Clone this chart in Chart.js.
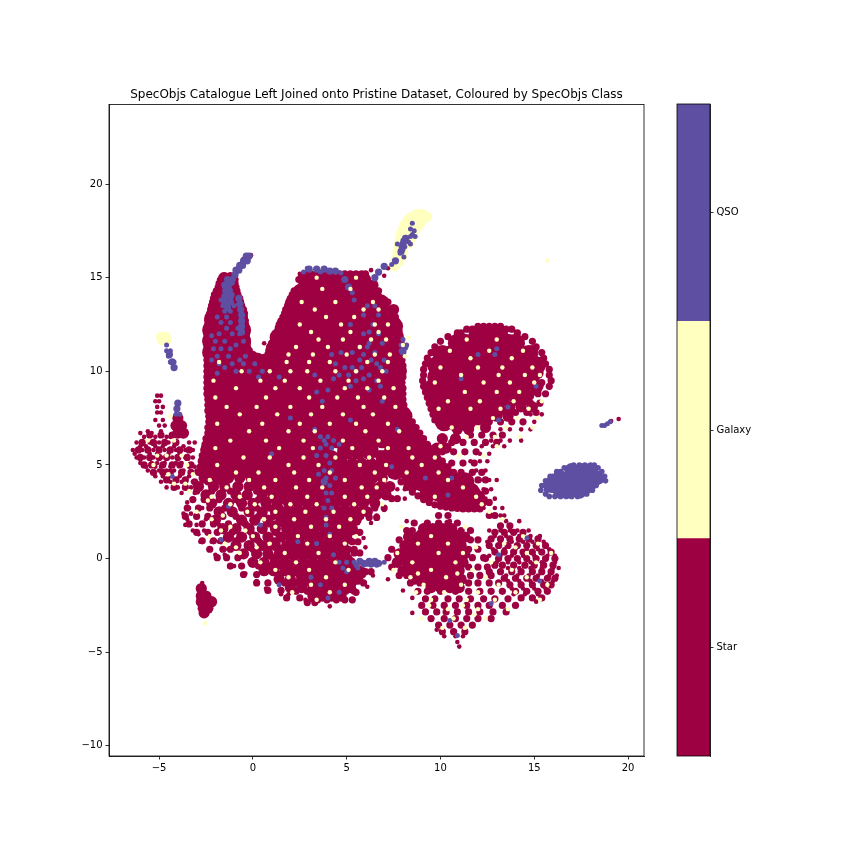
<!DOCTYPE html>
<html>
<head>
<meta charset="utf-8">
<script src="https://cdn.jsdelivr.net/npm/chart.js@4/dist/chart.umd.min.js"></script>
<style>
body { margin: 0; background: #fff; }
canvas { position: absolute; top: 0; }
</style>
</head>
<body>
<canvas id="scatter" width="864" height="864" style="left:0"></canvas>
<canvas id="colorbar" width="110" height="864" style="left:670px"></canvas>
<script>
// values. each row is [y, x, x, x ...]
// the real plot has far more points, so solid areas use bigger dots
const titleText = "SpecObjs Catalogue Left Joined onto Pristine Dataset, Coloured by SpecObjs Class";
const classNames = ["Star", "Galaxy", "QSO"];
const classColors = ["#9e0142", "#ffffbf", "#5e4fa2"];
const xTicks = [-5, 0, 5, 10, 15, 20];
const yTicks = [-10, -5, 0, 5, 10, 15, 20];

const starCoreRows = [
  [14.6,-1.4],[14.0,-1.7,-1.2],[13.4,-1.9,-1.3,-0.9],[12.8,-2.1,-1.5,-0.9],
  [12.2,-2.2,-1.6,-1.0,-0.6],[11.6,-2.2,-1.6,-1.0,-0.6],[11.0,-2.2,-1.6,-1.0,-0.5],
  [14.85,2.9,3.5,4.1,4.7,5.3,5.8],
  [14.2,2.6,3.2,3.8,4.4,5.0,5.6,6.2],
  [13.6,2.2,2.8,3.4,4.0,4.6,5.2,5.8,6.4,6.8],
  [13.0,2.0,2.6,3.2,3.8,4.4,5.0,5.6,6.2,6.8,7.2],
  [12.4,1.7,2.3,2.9,3.5,4.1,4.7,5.3,5.9,6.5,7.1,7.5],
  [11.8,1.4,2.0,2.6,3.2,3.8,4.4,5.0,5.6,6.2,6.8,7.4],
  [11.2,1.2,1.7,2.3,2.9,3.5,4.1,4.7,5.3,5.9,6.5,7.1,7.6],
  [10.5,-2.1,-1.5,-0.9,-0.3,0.2,1.0,1.6,2.2,2.8,3.4,4.0,4.6,5.2,5.8,6.4,7.0,7.6],
  [10.0,-2.1,-1.5,-0.9,-0.3,0.3,0.8,1.3,1.9,2.5,3.1,3.7,4.3,4.9,5.5,6.1,6.7,7.3,7.7],
  [9.4,-2.1,-1.5,-0.9,-0.3,0.3,0.9,1.5,2.1,2.7,3.3,3.9,4.5,5.1,5.7,6.3,6.9,7.5],
  [8.8,-2.1,-1.5,-0.9,-0.3,0.3,0.9,1.5,2.1,2.7,3.3,3.9,4.5,5.1,5.7,6.3,6.9,7.6],
  [8.2,-2.0,-1.4,-0.8,-0.2,0.4,1.0,1.6,2.2,2.8,3.4,4.0,4.6,5.2,5.8,6.4,7.0,7.7],
  [7.6,-2.0,-1.4,-0.8,-0.2,0.4,1.0,1.6,2.2,2.8,3.4,4.0,4.6,5.2,5.8,6.4,7.0,7.6,8.0],
  [7.0,-2.0,-1.4,-0.8,-0.2,0.4,1.0,1.6,2.2,2.8,3.4,4.0,4.6,5.2,5.8,6.4,7.0,7.6,8.2],
  [6.4,-2.1,-1.5,-0.9,-0.3,0.3,0.9,1.5,2.1,2.7,3.3,3.9,4.5,5.1,5.7,6.3,6.9,7.5,8.1,8.6],
  [5.8,-2.3,-1.7,-1.1,-0.5,0.1,0.7,1.3,1.9,2.5,3.1,3.7,5.0,5.6,6.2,7.5,8.1,8.7,9.1],
  [5.2,-2.4,-1.8,-1.2,-0.6,0,0.6,1.2,1.8,2.4,7.3,7.9,8.5,9.1,9.6],
  [4.7,-2.3,-1.8,-1.3,-0.7,0,7.6,8.2,8.8,9.4,10],
  [4.1,8.5,9.0,9.6,10.2,10.8,11.3],[3.55,9.4,9.9,10.4,11.0,11.6],[3.2,10.3,10.8,11.4,11.9],
  [11.95,12,12.5,13.1],
  [11.5,10.9,11.3,11.8,12.4,13.0,13.6,14],
  [10.9,10.1,10.6,11.2,11.8,12.4,13.0,13.6,14.2,14.7],
  [10.3,9.8,10.4,11.0,11.6,12.2,12.8,13.4,14.0,14.6,15.1],
  [9.7,9.8,10.4,11.0,11.6,12.2,12.8,13.4,14.2,14.8],
  [9.1,9.6,10.2,10.8,11.4,12.0,12.6,13.2,13.8],
  [8.5,9.8,10.4,11.0,11.6,12.2,12.8],[7.9,10.0,10.6,11.2,11.8,12.4],[7.3,10.2,10.8,11.4]
];
const starEdgeRows = [
  [15.1,-1.5,2.6],[14.9,-1.7,-0.95,2.45,6.1],[14.7,-1.8,-0.95],[14.5,-1.85,-0.9,6.3],[14.3,-1.95,-0.85,2.2,6.7],[14.1,-2.05,-0.8,2.1],[13.9,-2.1,-0.7,2],[13.7,-2.15,-0.65,1.95,7.2],
  [13.5,-2.2,-0.6,1.85],[13.3,-2.25,-0.5,1.75,7.45],[13.1,-2.3,-0.45,1.7,7.5],[12.9,-2.35,-0.45,1.6,7.6],[12.7,-2.4,-0.4,1.5,7.65],[12.5,-2.4,-0.4,1.45,7.7],[12.3,-2.45,-0.4,1.35,7.75],[12.1,-2.45,-0.35,1.3,7.8],
  [11.9,-2.45,-0.35,1.2,7.85],[11.7,-2.45,-0.35,1.1,7.9],[11.5,-2.4,-0.3,1,7.9],[11.3,-2.45,-0.3,0.9,7.9],[11.1,-2.45,-0.2,0.85,7.95],[10.9,-2.45,0,0.8,7.95],[10.75,0.25,0.6],[10.6,-2.45,7.95],[10.3,-2.45,8],
  [10,-2.45,8],[9.7,-2.45,8],[9.4,-2.45,7.95],[9.1,-2.45,8],[8.8,-2.45,8],[8.5,-2.4,8],[8.2,-2.4,8.05],[7.9,-2.4,8.15],[7.6,-2.35,8.3],[7.3,-2.35,8.5],[7,-2.4,8.7],[6.7,-2.4,8.9],[6.4,-2.5,9.1],[6.1,-2.55,9.3],[5.8,-2.6,9.5],[5.5,-2.7,9.8],[5.2,-2.75,10.1],[4.9,-2.8,10.4],[4.6,-2.9,10.7],
  [15.2,2.8,3.1,3.4,3.7,4,4.3,4.6,4.9,5.2,5.5,5.8,6],
  [12.4,12,12.3,12.6,12.9,13.2],[12.25,11.4,11.7,13.5,13.8],[12.05,10.9,11.1,14.1],[11.85,10.4,14.5],[11.6,10,14.9],[11.3,9.7,15.1],[11,9.5,15.4],[10.7,9.3,15.5],[10.4,9.2,15.6],[10.1,9.1,15.8],[9.8,9.1,15.8],[9.5,9.05,15.9],[9.2,9.1,15.8],[8.9,9.2],[8.6,9.3],[8.3,9.4],[8,9.5],[7.7,9.6],[7.4,9.7],
  [4.1,7.9],[3.8,8.2],[3.55,8.5],[3.35,8.8],[3.15,9.1],[3,9.4],[2.87,9.7],[2.8,10],[2.75,10.3],[2.7,10.6],[2.68,10.9],[2.65,11.2],[2.65,11.5],[2.65,11.8],[2.65,12.1]
];
const starMidRows = [
  [15.0,-1.55,-1.2],[14.6,6.4],[14.0,6.6],[13.3,1.9,7.5],
  [5.5,3.1,3.6,4.2,4.7,6.8,7],[5.1,2.8,3.3,3.8,4.3,4.8,5.3,5.8,6.3,6.8],[4.7,0.5,1,1.5,2,2.5,3,3.5,4,4.5,5,5.5,6,6.5,7],
  [4.3,-2.6,-1.9,-1.3,-0.7,-0.1,0.4,0.9,1.4,1.9,2.4,2.9,3.4,3.9,4.4,4.9,5.4,5.9,6.4,6.9],
  [3.85,-2.9,-2.1,-1.5,-0.8,-0.2,0.3,0.8,1.3,1.8,2.3,2.8,3.3,3.8,4.3,4.8,5.3,5.8,6.3,6.8,7.3],
  [3.4,-2.5,-1.7,-0.9,-0.3,0.5,1.1,1.6,2.1,2.6,3.1,3.6,4.1,4.6,5.1,5.6,6.1,6.6,7.1],
  [2.95,-2.2,-1.3,-0.6,0,0.7,1.3,1.9,2.4,2.9,3.4,3.9,4.4,4.9,5.4,5.9,6.5],
  [2.5,-1.8,-1.1,-0.2,0.5,1.2,1.7,2.2,2.7,3.2,3.7,4.2,4.7,5.2,5.7,6.1],
  [2.05,-2,-0.6,0.1,0.8,1.5,2,2.5,3,3.5,4,4.5,5,5.5],
  [1.6,-1.6,-0.9,-0.2,0.5,1.2,1.8,2.3,2.8,3.3,3.8,4.3,4.8,5.3],
  [1.15,-1.3,-0.6,0.1,0.8,1.5,2,2.5,3,3.5,4,4.5,5],
  [0.7,-0.9,-0.2,0.5,1.2,1.8,2.3,2.8,3.3,3.8,4.3,4.8],
  [0.25,-0.5,0.2,0.8,1.4,1.9,2.4,2.9,3.4,3.9,4.4,4.9],
  [-0.2,0,0.6,1.2,1.7,2.2,2.7,3.2,3.7,4.2,4.7,5.2],
  [-0.65,0.6,1.1,1.7,2.2,2.7,3.2,3.7,4.2,4.7,5.2,5.7],
  [-1.1,1.4,2,2.6,3.1,3.6,4.1,4.6,5.1,5.6],
  [-1.55,2,2.6,3.2,3.7,4.2,4.7,5.2],
  [-2,3.2,3.7,4.2,4.7],
  // lower left blob
  [1.6,9.1,9.6,10.1,10.6],
  [1.15,8.3,8.8,9.3,9.8,10.3,10.8,11.3],[0.7,8.1,8.6,9.1,9.6,10.1,10.6,11.1],
  [0.25,7.8,8.3,8.8,9.3,9.8,10.3,10.8,11.3],[-0.2,7.7,8.2,8.7,9.2,9.7,10.2,10.7,11.2],
  [-0.65,8,8.5,9,9.5,10,10.5,11],[-1.1,8.6,9.1,9.6,10.1,10.6,11.1],
  [-1.55,9.5,10,10.5,11],
  // right circle lower part
  [11.1,14.9],[10.5,15.1],[9.9,15.2],[9.2,14,14.6,15.2],[8.7,13.5,14.1,14.7],[8.1,13.1,13.7,14.3,14.9],[7.6,12.4,13,13.6],[7,12.4],
  [9,13.8,14.4,15.1],[8.45,13.4,14,14.5],[7.9,13,13.6],[7.4,12,12.5],[6.9,10.9,11.5],[6.4,10.1,10.8],[5.9,9.8,10.3],
  // small shapes
  [7.5,-4],[7.1,-4.1,-3.8],[6.7,-4,-3.7],
  [-1.6,-2.75],[-2,-2.75,-2.5],[-2.3,-2.75,-2.45,-2.2],[-2.65,-2.65,-2.4],[-2.9,-2.6]
];
const starFillRows = [
  // lower body, in the gaps of the rows above
  [4.05,0.05,0.55,1.05,1.55,2.05,2.55,3.05,3.55,4.05,4.55,5.05,5.55,6.05],
  [3.6,0.2,0.85,1.35,1.85,2.35,2.85,3.35,3.85,4.35,4.85,5.35,5.85,6.35],
  [3.15,0.9,1.6,2.15,2.65,3.15,3.65,4.15,4.65,5.15,5.65,6.2],
  [2.7,0.2,1,1.45,1.95,2.45,2.95,3.45,3.95,4.45,4.95,5.45],
  [2.25,1.1,1.75,2.25,2.75,3.25,3.75,4.25,4.75,5.25,5.75],
  [1.85,1.2,1.6,2.15,2.65,3.15,3.65,4.15,4.65,5.15],
  [1.4,1.2,1.75,2.25,2.75,3.25,3.75,4.25,4.75,5.2,5.5],
  [0.95,1.15,2.05,2.55,3.05,3.55,4.05,4.55,5.2],
  [0.5,0.85,1.5,2.05,2.55,3.05,3.55,4.05,4.55,5.1,5.4],
  [0.05,1.05,1.65,2.15,2.65,3.15,3.65,4.15,4.65,5.1],
  [-0.4,0.9,1.45,1.95,2.45,2.95,3.45,3.95,4.45,4.95,5.45],
  [-0.85,1.4,1.95,2.45,2.95,3.45,3.95,4.45,4.95,5.45,5.85],
  [-1.3,1.7,2.3,2.85,3.35,3.85,4.35,4.85,5.35],
  [-1.75,2.3,2.9,3.45,3.95,4.45,4.95,5.4],
  [-2.2,3.45,3.95,4.45,4.9],
  // lower body, sparse left side
  [4.1,-3.1,-2.4,-1.7],[3.6,-3,-2.2,-1.2],[3.15,-3.2,-2.6,-1.8,-0.9,0.3],[2.7,-3.5,-2.9,-2.3,-1.5,-0.6,0.9],[2.25,-3.6,-3,-2.4,-1.6,-0.9,0.3],[1.85,-3.4,-2.7,-2.1,-1.3,-0.4,0.9],[1.4,-3,-2.4,-1.9,-1.1,-0.1],[0.95,-2.7,-2.1,-1.7,-0.9,0.3],[0.5,-2.3,-1.6,-1.2,0],[0.05,-1.9,-1.4,-0.8],[-0.4,-1.2,-0.6,0.3],[-0.85,-0.5,0.2],[-1.3,0.2,0.8],[-1.7,0.8,1.5],[-2.1,1.8,2.5],[-2.35,2.9,3.3],
  [2.2,6.2,6.6],[2.7,6.5,7],[3.2,7.4,7.7],[1.4,5.7],[0.9,5.3,5.6],[0.3,5.4,5.7],[-0.7,6,6.3],[-1.3,5.9],[-1.8,5.5],[-2.2,5.3],
  // cloud on the left
  [6.6,-5.5,-4.9,-4.3],[6.2,-5.9,-5.3,-4.7,-4.1],[5.8,-6.1,-5.6,-5,-4.4,-3.9,-3.4],[5.4,-6,-5.5,-5,-4.6,-4,-3.5],[5,-5.8,-5.4,-4.8,-4.3,-3.9,-3.3],[4.6,-5.3,-4.8,-4.4,-3.8,-3.3],[4.2,-4.6,-4.1,-3.6],[3.8,-4.2,-3.6],
  // tail, circle lower side
  [6.6,11.6,12.2,12.8,13.3],[6.2,10.6,11.2,11.8,12.4,13],[5.7,10.1,10.7,11.3,11.9],[5.1,9.9,10.6,11.2,11.8],[4.6,10.6,11.1,11.7,12.2],[4.2,11.5,12,12.4],[3.6,11.9,12.4],[3,12.3,12.6],[7.3,12.6,13.2,13.8,14.4],[7.8,13.4,14,14.6,15.1],[8.3,14.2,14.8,15.3],[8.8,14.6,15.2,15.6],[9.4,14.5,15,15.4],[2.3,9.9,10.4,12.6,12.9],
  // lower left blob outer part
  [1.9,8.6,9.3,9.9,10.4,10.9],[1.5,8.2,8.5,11.1,11.6],[1,7.8,11.6,12],[0.5,7.4,11.5,12],[0.05,7.2,11.7,12.3],[-0.45,7.4,11.5,12,12.5],[-0.9,7.8,8.2,11.6,12.1,12.7],[-1.3,8.4,8.9,11.5,12,12.6,13.1],[-1.75,8.8,9.3,10,10.8,11.5,12.1,12.7,13.3],
  [1.35,8.9,9.4,9.9,10.4,10.9],[0.9,8.55,9.05,9.55,10.05,10.55,11.05],[0.45,8.05,8.55,9.05,9.55,10.05,10.55,11.05],[0,8,8.5,9,9.5,10,10.5,11],[-0.45,8.3,8.8,9.3,9.8,10.3,10.8],[-0.9,8.85,9.35,9.85,10.35,10.85],[-1.3,9.3,9.8,10.3,10.8],
  [-2.15,9.2,9.7,10.4,11,11.6,12.3,12.9,13.6],[-2.5,9,9.6,10.2,10.8,11.4,12,12.6,13.3,14],[-2.85,9.2,9.8,10.3,10.9,11.5,12.1,12.8,13.5],[-3.2,9.5,10.2,10.8,11.4,12,12.7],[-3.55,9.9,10.5,11.1,11.7],[-3.9,10.1,10.7,11.3],
  // lower right blob
  [1.75,13.2,13.7],[1.4,12.9,13.4,13.9,14.4],[1.05,12.7,13.2,13.7,14.2,14.7,15.2],[0.7,12.6,13.1,13.6,14.1,14.6,15.1,15.6],[0.35,12.9,13.4,13.9,14.4,14.9,15.4,15.9],[0,12.4,13.1,13.6,14.1,14.6,15.1,15.6,16.1],
  [-0.35,12.9,13.3,13.9,14.5,15,15.5,16],[-0.7,12.6,13.2,13.8,14.3,14.9,15.4,15.9],[-1.05,13.4,14,14.6,15.1,15.7,16.1],[-1.4,13.7,14.3,14.9,15.5,15.9],[-1.75,14,14.6,15.2,15.7],[-2.1,14.3,14.9,15.4]
];
const starDotRows = [
  [16,-0.5],[15.4,-0.9,6.3],[15.2,2.5],[14.9,-1.8],[11.5,0.6],[7.45,19.5],[7.35,19.1],[16.2,-0.1],[15.5,-0.8],[15.5,7.2],[15.1,7],
  [8.7,-5.1,-4.9],[8.4,-5.2,-5],[8.1,-5.1,-4.8],[7.8,-5.1,-4.9],[7.4,-5.2,-4.8],[7.1,-5,-4.7],[6.8,-5.6,-4.9],[7.2,-3.9],
  [6.7,-5.4,-6],[6.5,-5.8,-5.2,-4.6,-4.4],[6.2,-6.2,-5.5,-5,-4.5,-3.4,-3.1],[6,-6,-5.7,-5.2,-4.8,-4.2,-3.7],
  [5.8,-6.4,-5.9,-5.3,-4.7,-4.1,-3.6,-3.2],[5.6,-6.3,-5.5,-5.1,-4.5,-3.9],[5.4,-6.2,-5.8,-5.3,-4.9,-4.3,-3.6,-3.2],
  [5.1,-6,-5.4,-5.1,-4.7,-4.1,-3.8],[4.9,-5.7,-5.2,-4.9,-4.4,-3.4,-3.1],[4.7,-5.6,-5,-4.6,-4.2,-3.7,-3],
  [4.4,-5.2,-4.8,-4.4,-3.9,-3.4],[4.1,-4.9,-4.4,-3.8,-3.2],[3.8,-4.6,-4,-3.3],[3.5,-3.8,-3.1],[3,-3.5],[2.7,-3.4,-2.7],
  [2.4,-3.7,-3.3],[2.1,-3.5,-2.5],[1.8,-3.6,-3,-1.8],[1.5,-3.2,-2.6],[1.3,-2.9],[0.9,-2.8,-2.2,-1.8],[0.5,-2.3,-1.5],[0.2,-2,-1.5],
  [-0.4,-1],[-0.8,-0.4],[-1.2,0.2],[-1.6,0.7],[-1.9,1.5,1.9],[-2.2,2.8,3.1],[-2.55,4.1],[-1.3,-2.7],
  [3.7,7.7,8.1],[3.2,7.7,8.1],[2.6,7],[2.3,6.6],[1.9,6.3],[1.1,5.9],[0.6,6],[-0.9,6.4],[-1.5,6.1],
  [6.3,12.7,13.2,13.7,14.3],[6.9,13.2,13.7,14.3,14.8],[7.3,14.4,15],[7.7,14.8,15.4],[6,12.2,12.8,13.4],[5.6,12.1,12.6],[5.2,11.6,12.1,12.5],[4.7,11.9,12.4],
  [4.2,12.1,12.6,13],[3.7,12.3,12.7],[3.2,12.4,12.9],[2.7,12.3,12.9,13.3],[2.3,13.2,13.4],[2,10.5,8.2,13.5,14.2],[1.5,12.6,13.2,13.7,14.1,14.7],[1.2,12.9,13.5,14.2,14.8,15.3],
  [0.9,12.5,13.2,13.8,14.4,14.9,15.5],[0.5,12.8,13.4,14,14.6,15.2,15.8],[0.15,12.6,13.2,13.8,14.4,15,15.7,16.1],[-0.2,13,13.6,14.2,14.8,15.4,16.1],
  [-0.5,13.6,14.2,14.8,15.4,16,16.3],[-0.9,13.5,14.1,14.7,15.2,15.8,16.2],[-1.2,13.6,14.2,14.8,15.4,16],[-1.6,13.8,14.4,15,15.6],[-1.9,13.9,14.5,15.2],[-2.3,15.1],
  [-2.9,8.5],[-3.8,9.8],[-4.15,10.2,10.8,11.2],[-4.45,10.9],[-4.7,11],[-1.1,7.2],[-1.7,8],[-2.1,8.5]
];
const galaxyPatchRows = [
  [18.4,8.75,9.05],[18.25,8.45,9.3],[18.1,8.25,8.7,9.1],[17.85,8.1,8.5,8.9],[17.6,8,8.35,8.7],[17.35,7.9,8.25,8.55],[17.1,7.85,8.2,8.45],[16.85,7.8,8.1,8.35],[16.6,7.75,8.05],[16.35,7.7,8],[16.1,7.65,7.95],[15.85,7.6,7.8],[15.6,7.55],
  [11.85,-4.9,-4.65],[11.65,-4.85,-4.6]
];
const galaxyDotRows = [
  [15.9,15.7],[-3.45,-2.55],[11.4,8.0],[10.8,8.1],[11.8,8.3],
  [15,3.4,5.5],[14.4,5.2,3.7],[13.7,2.6,4.4,6.4],[13.3,3.3,5.9,6.7],[12.9,3.9,5.4],[12.5,2.5,4.7,6.5,7.2],[12.1,3.1,5.2,6.7],[11.7,3.5,4.8,6.3,7.1],[11.3,2.3,4,5.7],[10.9,1.9,3.2,5,6.5,7.3],
  [10.5,-1.8,1.8,3,4.1,6.1,7.2],[10,-0.6,0.9,2,2.9,4.4,5.5,6.9],[9.5,-2.1,0.4,1.7,3.6,5.1,6.7],[9.1,-0.9,1.2,2.5,4.9,6.1,7.5],[8.6,-2,0.7,3,4.5,5.6,7],[8.1,-1.4,0.2,2,3.7,5.9,7.6],[7.7,-0.7,1.3,3.1,4.8,6.4],
  [7.2,-1.9,0.5,2.5,4.1,5.5,7.2],[6.8,-0.2,1.9,3.3,6,7.8],[6.3,-1.2,0.7,2.7,4.8,6.7],[5.9,-2,1.4,3.2,5.3,7.2,8.3],[5.4,-0.5,0.9,2.7,4.4,6.2,8.5,9.7],[5,-1.9,1.9,3.5,5.7,7.1,9],[4.6,-0.9,0.3,2.2,4.1,6.5,8.2,9.9],
  [4.2,-2.3,-0.2,1.2,3,4.9,7,10.4],[3.8,-1.4,0.6,2.3,3.7,5.8,6.6,11.2],[3.3,-2.2,-0.7,1,2.9,4.9,6.1,9.7,11.9],[2.9,-1.2,0.1,2,3.4,5.4,6.9,12.2],[2.5,-3,-0.3,1.2,2.8,4.3,5.9,12.6],[2.1,-2.2,0.6,2.2,3.9,5.2,13.3],[1.7,-1.2,1.2,3.1,4.6,7.9,11.3],[1.2,-2.3,0,2.4,4.1,5.5,9.5,14.4],
  [0.8,-1.5,0.9,2.9,4.9,8.8,10.4,13.4,15.2],[0.3,-0.7,1.7,3.5,7.7,9.9,11.2,14.6,15.9],[-0.2,0.4,2.3,4.4,8.5,10.8,12.7,15.1],[-0.6,1.2,3,5.1,7.5,9.5,11.7,13.8],[-1,1.9,3.9,8.4,10.3,12.4,14.6],[-1.4,3.1,4.9,9.1,11.1,13.1,15.7],[-1.8,2.1,4.1,8.7,10.2,12,14],[-2.2,3.4,9.5,11.4,12.9,15.3],[-2.7,10.4,12,13.6],[-3.2,9,10.7,12.4],[-3.7,10.1,11.3],
  [11.7,11.4,13],[11.1,10.5,12.6,14.4],[10.7,11.6,13.8],[10.2,10,12,13.3,14.9],[9.8,11.1,13.1,14.5,15.3],[9.4,9.7,12.3,13.7,15],[8.9,11.3,13,14.2],[8.4,10.4,12.1,13.9,15.4],[8,9.9,11.6,13.2,14.7],[7.5,12.8,14.1,15.2],[7,10.6,12,13.5,14.9],[6.5,11.4,12.9,14.2],[6,10,13],[5.5,11,12.3],
  [6.3,-5.6,-4.2],[5.5,-5.1,-4.6,-3.8],[5,-5.3,-3.5],[4.5,-4.5,-3.2],[7.6,-4.4],[4,-3.6,-4.2],[3.6,-3.4],[3.1,-2.4],[2.3,-1.6],[1.5,-1.7,-0.4],[0.6,-0.9,0.2,11.9,14],[-0.8,8.8,10.9],[-2.5,9.4,11.2],[-3,11.8]
];
const qsoCoreRows = [
  [4.7,17,17.5,18],[4.3,16.4,16.9,17.4,17.9,18.3],[3.9,15.95,16.4,16.9,17.4,17.9],[3.6,16.4,16.9,17.4]
];
const qsoThickRows = [
  [16.15,-0.2,-0.35],[15.9,-0.3,-0.5],[15.65,-0.55,-0.7],[15.4,-0.75,-0.9],[15.15,-0.95],[14.9,-1.1,-1.35],[14.6,-1.3,-1.5],[14.3,-1.45,-1.25],[14,-1.5,-1.2],[13.7,-1.5,-1.2],[13.4,-1.35],
  [13.9,-0.75],[13.6,-0.7],[13.3,-0.65],[13,-0.6],[12.7,-0.6],[12.4,-0.6],[12.1,-0.6],
  [10.9,-4.45],[10.5,-4.3],[10.2,-4.2],[8.3,-4],[8,-4.05],
  [17.1,8.15],[16.8,8],[16.4,7.9],[15.9,7.6],[15.6,7],[15.3,6.7],[15,6.5],
  [15.45,3,3.4,3.8],[15.35,4.1,4.4],[14.9,4.9],[14.5,5.1],
  [4.1,3.8],[-0.25,6.1,6.4,6.7],[-0.15,5.7,6.2,6.5],[11.3,8.1],[11.05,8],
  [3.7,15.7,16],[4.2,15.85,16.1],[4.55,16.25]
];
const qsoEdgeRows = [
  [5.0,17.1,17.4,17.7,18,18.2],[4.85,16.6,16.85,18.4],[4.65,16.2,16.4,18.6],[4.4,15.85,16,18.75],[4.15,15.6,18.55,18.8],[3.9,15.4,15.5,18.3],[3.65,15.35,17.9,18.1],[3.45,15.6,17.5,17.8],[3.32,15.8,16.1,16.4,16.7,17,17.3]
];
const qsoDotRows = [
  [17.9,8.5],[17.6,8.4],[17.5,8.6],[17.3,8.5],[17.2,8.4,8.65],[17,8],[16.95,8.2],[16.8,7.7,8.4],[16.65,8.1,7.9],[17.15,8.1],[16.9,8.3],[16.5,8],[16.3,7.85],[16.1,8.05],[15.7,7.4],
  [14.7,-1.1],[14.1,-1.1],[13.8,-1.7],[13.5,-1.6,-1],[13.2,-1.5,-1.2],[12.9,-1.4,-1.9],[12.6,-1.7,-1.2],[12.3,-1.4,-0.8],[12,-0.7,-1.8,-1.1],[11.6,-2,-1.5,-0.5],[11.2,-2.1,-1.7,-1.2],[10.8,-1.9,-1.3,-0.4],[10.4,-1.8,-1.1,-0.5,0.1],[10,-0.9,0.5,-0.2],[9.7,0.3],[11.9,-2.2],[11.4,-0.9],[10.6,-2.2,-0.7],[10.2,-1.5],[9.9,-1.9],
  [11.4,-4.6],[11.1,-4.6,-4.4],[10.8,-4.5],[10.5,-4.4,-4.2],[7.7,-4.1,-3.9],
  [15.3,2.7],[15.25,4.7],[14.2,5.3],[13.8,5.4],[15.5,2.9],[15.3,3.6],
  [11.7,8],[11.4,8.2,7.9],[11.1,7.9],[13.5,6.1,6.5],[13,5.9,6.7],[12.5,6.4,5.2],[12,6.7,5.9],[11.5,6.2,6.9],[11,5.3,6.5,4.7],[10.6,5.7,6.3,7],[10.2,4.9,5.3,5.8,6.8],[9.8,3.3,4.6,5.1,6.2],[9.5,5.5,6.6],[9,4,6.2],[8.4,3.7,6.9],
  [12.1,6.2],[11.3,5.7,6.1],[10.9,4.2,5.9],[10.4,4.4,6.6],[10,5.5,7.1],[9.6,4.3,5.9],[9.2,5.2,6.8],
  [6.5,3.6,4],[6.3,3.8,4.3],[5.9,3.6,4.2],[5.5,3.4,3.9],[5.1,4.1],[4.7,3.8,4.2],[4.3,3.9,4.4],[3.9,4.1],[3.5,3.9,4.2],[3.1,4],[2.7,3.8,4.2],[2.2,3.9],[1.8,3.9],[1.3,4.1],[0.8,3.4],[0.2,4.3],[6.1,3.9,4.6],[4.5,3.5],
  [-0.2,4.6,5,5.4,5.7,5.9,6.3,7],[-0.35,5.5,5.9,6.3,6.6],[-0.5,4.8,5.6],[-1,3.1],[-1.4,3.6,1.4],[-1.8,4.6],[-2.1,4],[1.8,0.4],[2.8,-1.3],[0.9,2.4],[-0.7,5],
  [7.1,18.6,18.75],[7.2,18.9],[7.3,19.05],[7.5,2],[8.9,3.4],[9.7,1.4],[7.4,5.2],[5.6,1],[6.9,3.3,7.7],[3.4,10.4],[9.6,11.1],[8.1,13.6],[4.9,7.4],[-1.2,15.3],[-3.3,10.5],[1.1,14.6],[7.4,13.1],[10.9,12.9,12],[4.3,9.2,10.6],[9.2,15.1],[-4.1,10.9],[-2.4,12.7],[0.2,13.1],[11.2,13],[4.4,-4.3],[1,-1.7]
];

const toPoints = rows => rows.flatMap(([y, ...xs]) => xs.map(x => ({x, y})));
const fmt = v => String(v).replace("-", "\u2212");
const spec = (rows, color, radius) => ({
  data: toPoints(rows), backgroundColor: color, pointRadius: radius, pointBorderWidth: 0, pointHoverRadius: radius
});

const frame = {
  id: "frame",
  afterDraw(chart) {
    const a = chart.chartArea, c = chart.ctx;
    c.save();
    c.strokeStyle = "#000";
    c.lineWidth = 0.8;
    c.strokeRect(a.left, a.top, a.width, a.height);
    c.restore();
  }
};
const tickFont = {family: "DejaVu Sans", size: 10};

new Chart("scatter", {
  type: "scatter",
  data: {
    // first dataset is drawn on top
    datasets: [
      spec(galaxyDotRows, classColors[1], 2.2),
      spec(qsoDotRows, classColors[2], 2.5),
      spec(qsoThickRows, classColors[2], 3.6),
      spec(qsoEdgeRows, classColors[2], 2.8),
      spec(qsoCoreRows, classColors[2], 7.5),
      spec(starDotRows, classColors[0], 2.3),
      spec(starFillRows, classColors[0], 3.6),
      spec(starEdgeRows, classColors[0], 3.6),
      spec(starMidRows, classColors[0], 5.6),
      spec(starCoreRows, classColors[0], 9.5),
      spec(galaxyPatchRows, classColors[1], 5)
    ]
  },
  options: {
    responsive: false,
    animation: false,
    devicePixelRatio: 1,
    layout: {padding: {left: 69, right: 220, top: 88, bottom: 78}},
    plugins: {
      legend: {display: false},
      tooltip: {enabled: false},
      title: {
        display: true, text: titleText, color: "#000", fullSize: false,
        font: {family: "DejaVu Sans", size: 12, weight: "normal"},
        padding: {top: 0, bottom: 2}
      }
    },
    scales: {
      x: {
        type: "linear", min: -7.67, max: 20.85,
        grid: {drawOnChartArea: false, tickLength: 3.5, tickWidth: 0.8, tickColor: "#000"},
        border: {color: "#000", width: 0.8},
        ticks: {color: "#000", font: tickFont, padding: 3, maxRotation: 0, autoSkip: false, callback: fmt},
        afterBuildTicks: s => { s.ticks = xTicks.map(value => ({value})); },
        afterFit: s => { s.height = 30; }
      },
      y: {
        type: "linear", min: -10.54, max: 24.25,
        grid: {drawOnChartArea: false, tickLength: 3.5, tickWidth: 0.8, tickColor: "#000"},
        border: {color: "#000", width: 0.8},
        ticks: {color: "#000", font: tickFont, padding: 3, autoSkip: false, callback: fmt},
        afterBuildTicks: s => { s.ticks = yTicks.map(value => ({value})); },
        afterFit: s => { s.width = 40; }
      }
    }
  },
  plugins: [frame]
});

new Chart("colorbar", {
  type: "bar",
  data: {
    labels: [""],
    datasets: classNames.map((name, i) => ({
      label: name, data: [1], backgroundColor: classColors[i], barPercentage: 1, categoryPercentage: 1
    }))
  },
  options: {
    responsive: false,
    animation: false,
    devicePixelRatio: 1,
    layout: {padding: {left: 7, right: 0, top: 104, bottom: 108}},
    plugins: {legend: {display: false}, tooltip: {enabled: false}},
    scales: {
      x: {stacked: true, display: false},
      y: {
        stacked: true, position: "right", min: 0, max: 3,
        grid: {drawOnChartArea: false, tickLength: 3.5, tickWidth: 0.8, tickColor: "#000"},
        border: {color: "#000", width: 0.8},
        ticks: {color: "#000", font: tickFont, padding: 3, autoSkip: false, callback: v => classNames[Math.floor(v)]},
        afterBuildTicks: s => { s.ticks = classNames.map((n, i) => ({value: i + 0.5})); },
        afterFit: s => { s.width = 70; }
      }
    }
  },
  plugins: [frame]
});
</script>
</body>
</html>
